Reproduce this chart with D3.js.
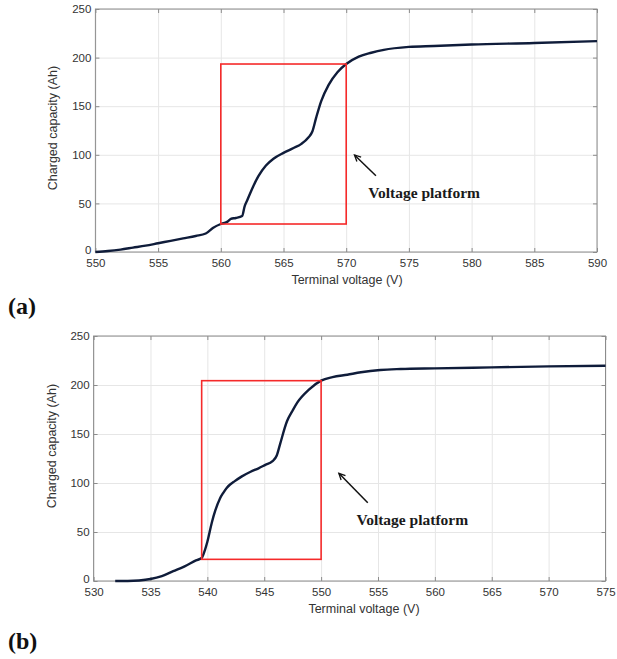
<!DOCTYPE html>
<html>
<head>
<meta charset="utf-8">
<script src="https://cdn.jsdelivr.net/npm/d3@7"></script>
<style>
  body { margin: 0; background: #fff; }
  svg { display: block; }
  .tick text { font-family: "Liberation Sans", Arial, sans-serif; font-size: 11.5px; fill: #333; }
</style>
</head>
<body>
<svg id="fig" width="617" height="659"></svg>
<script>
// panel (a): terminal voltage (V) vs charged capacity (Ah)
var voltsA = [550, 551, 552, 553, 554, 555, 556, 557, 558, 558.8, 559.4, 560, 560.5, 560.8, 561.2, 561.7,
  561.9, 562.1, 562.6, 563, 563.6, 564.2, 565, 565.8, 566.4, 567, 567.3, 567.6, 568, 568.6, 569.3, 570,
  571, 572, 573, 575, 577, 580, 585, 590];
var capA = [0, 1, 2.5, 4.5, 6.5, 9, 11.5, 14, 16.5, 19, 25, 28.8, 31, 34, 35, 37,
  47, 53, 68, 78, 89, 96, 102, 107, 111, 118, 124, 138, 155, 172, 185, 193.4,
  201, 205, 208, 211, 212, 213.5, 215, 217];

// panel (b)
var voltsB = [531.9, 533, 534, 535, 536, 537, 538, 539, 539.5, 539.8, 540, 540.4, 540.7, 541.1, 541.4,
  541.7, 542, 542.3, 543, 543.8, 544.5, 545.1, 545.7, 546.1, 546.4, 547, 547.5, 547.9, 548.9, 550, 551,
  552.3, 553.5, 555.2, 557, 560, 565, 570, 575];
var capB = [0, 0, 0.5, 2, 5, 10, 15, 21, 23.5, 32, 40, 60, 72, 84, 90,
  95, 98.5, 101, 106.5, 111.5, 115, 118.5, 122, 128, 140, 163, 174, 182, 195, 204.4, 208,
  210.5, 213, 215.3, 216.3, 217, 218, 219, 219.7];

var xTicksA = [550, 555, 560, 565, 570, 575, 580, 585, 590];
var xTicksB = [530, 535, 540, 545, 550, 555, 560, 565, 570, 575];
var yTicks = [0, 50, 100, 150, 200, 250];

// voltage platform boxes [v0, v1, c0, c1] and annotations
var boxA = [560, 570, 28.8, 193.4];
var boxB = [539.5, 550, 22.1, 204.4];
var noteA = { text: "Voltage platform", tx: 571.75, ty: 55.6, head: [570.66, 99.8], tail: [572.37, 78.5] };
var noteB = { text: "Voltage platform", tx: 553.1, ty: 57.1, head: [551.56, 109.9], tail: [554.1, 79.9] };

var svg = d3.select("#fig");

function panel(opt) {
  var x = d3.scaleLinear().domain(opt.xdom).range([opt.left, opt.right]);
  var y = d3.scaleLinear().domain([0, 250]).range([opt.bottom, opt.top]);
  var w = opt.right - opt.left, h = opt.bottom - opt.top;
  var g = svg.append("g");

  // grid
  g.append("g").attr("transform", "translate(0," + opt.bottom + ")")
    .call(d3.axisBottom(x).tickValues(opt.xticks).tickSize(-h).tickFormat(""))
    .call(function(s) { s.select(".domain").remove(); s.selectAll("line").attr("stroke", "#e6e6e6"); });
  g.append("g").attr("transform", "translate(" + opt.left + ",0)")
    .call(d3.axisLeft(y).tickValues(yTicks).tickSize(-w).tickFormat(""))
    .call(function(s) { s.select(".domain").remove(); s.selectAll("line").attr("stroke", "#e6e6e6"); });

  // frame
  g.append("rect").attr("x", opt.left).attr("y", opt.top).attr("width", w).attr("height", h)
    .attr("fill", "none").attr("stroke", "#8c8c8c").attr("stroke-width", 1);

  // axes with inward ticks (MATLAB style)
  var ax = [
    g.append("g").attr("transform", "translate(0," + opt.bottom + ")")
      .call(d3.axisBottom(x).tickValues(opt.xticks).tickSize(-4).tickPadding(7)),
    g.append("g").attr("transform", "translate(0," + opt.top + ")")
      .call(d3.axisTop(x).tickValues(opt.xticks).tickSize(-4).tickFormat("")),
    g.append("g").attr("transform", "translate(" + opt.left + ",0)")
      .call(d3.axisLeft(y).tickValues(yTicks).tickSize(-4).tickPadding(4)),
    g.append("g").attr("transform", "translate(" + opt.right + ",0)")
      .call(d3.axisRight(y).tickValues(yTicks).tickSize(-4).tickFormat(""))
  ];
  ax.forEach(function(a) {
    a.select(".domain").remove();
    a.selectAll(".tick line").attr("stroke", "#8c8c8c");
  });
  // lift the "0" label a touch so it clears the first x label
  ax[2].selectAll(".tick text").filter(function(d) { return d === 0; }).attr("dy", "0.1em");

  // axis labels
  g.append("text").attr("x", opt.xlabX).attr("y", opt.bottom + 32)
    .attr("text-anchor", "middle")
    .style("font-family", "'Liberation Sans', Arial, sans-serif").style("font-size", "12.5px").style("fill", "#333")
    .text("Terminal voltage (V)");
  g.append("text").attr("transform", "translate(" + (opt.left - 38) + "," + opt.ylabY + ") rotate(-90)")
    .attr("text-anchor", "middle")
    .style("font-family", "'Liberation Sans', Arial, sans-serif").style("font-size", "12.5px").style("fill", "#333")
    .text("Charged capacity (Ah)");

  // curve
  var pts = opt.xs.map(function(v, i) { return [v, opt.ys[i]]; });
  var line = d3.line().x(function(d) { return x(d[0]); }).y(function(d) { return y(d[1]); })
    .curve(d3.curveMonotoneX);
  g.append("path").datum(pts).attr("d", line)
    .attr("fill", "none").attr("stroke", "#0f1c3a").attr("stroke-width", 2.4)
    .attr("stroke-linejoin", "round");

  // red box
  var b = opt.box;
  g.append("rect").attr("x", x(b[0])).attr("y", y(b[3]))
    .attr("width", x(b[1]) - x(b[0])).attr("height", y(b[2]) - y(b[3]))
    .attr("fill", "none").attr("stroke", "#f52a2a").attr("stroke-width", 1.6);

  // arrow + note
  var n = opt.note;
  var hx = x(n.head[0]), hy = y(n.head[1]), tx = x(n.tail[0]), ty = y(n.tail[1]);
  g.append("line").attr("x1", tx).attr("y1", ty).attr("x2", hx).attr("y2", hy)
    .attr("stroke", "#111").attr("stroke-width", 1.5);
  var ang = Math.atan2(hy - ty, hx - tx), L = 7, sp = 0.45;
  var p1 = [hx - L * Math.cos(ang - sp), hy - L * Math.sin(ang - sp)];
  var p2 = [hx - L * Math.cos(ang + sp), hy - L * Math.sin(ang + sp)];
  g.append("path").attr("d", "M" + p1 + "L" + hx + "," + hy + "L" + p2)
    .attr("fill", "none").attr("stroke", "#111").attr("stroke-width", 1.3);
  g.append("text").attr("x", x(n.tx)).attr("y", y(n.ty))
    .style("font-family", "'Liberation Serif', 'Times New Roman', serif").style("font-weight", "bold")
    .style("font-size", "15.5px").style("fill", "#1a1a1a")
    .text(n.text);

  // panel letter
  g.append("text").attr("x", 8).attr("y", opt.letterY)
    .style("font-family", "'Liberation Serif', 'Times New Roman', serif").style("font-weight", "bold")
    .style("font-size", "24px").style("fill", "#111")
    .text(opt.letter);
}

panel({ xdom: [550, 590], xticks: xTicksA, xs: voltsA, ys: capA, box: boxA, note: noteA,
  left: 95.4, right: 597, top: 9, bottom: 252, xlabX: 347, ylabY: 128, letter: "(a)", letterY: 314 });
panel({ xdom: [530, 575], xticks: xTicksB, xs: voltsB, ys: capB, box: boxB, note: noteB,
  left: 93.6, right: 605.5, top: 336, bottom: 581, xlabX: 364, ylabY: 446, letter: "(b)", letterY: 649 });
</script>
</body>
</html>
